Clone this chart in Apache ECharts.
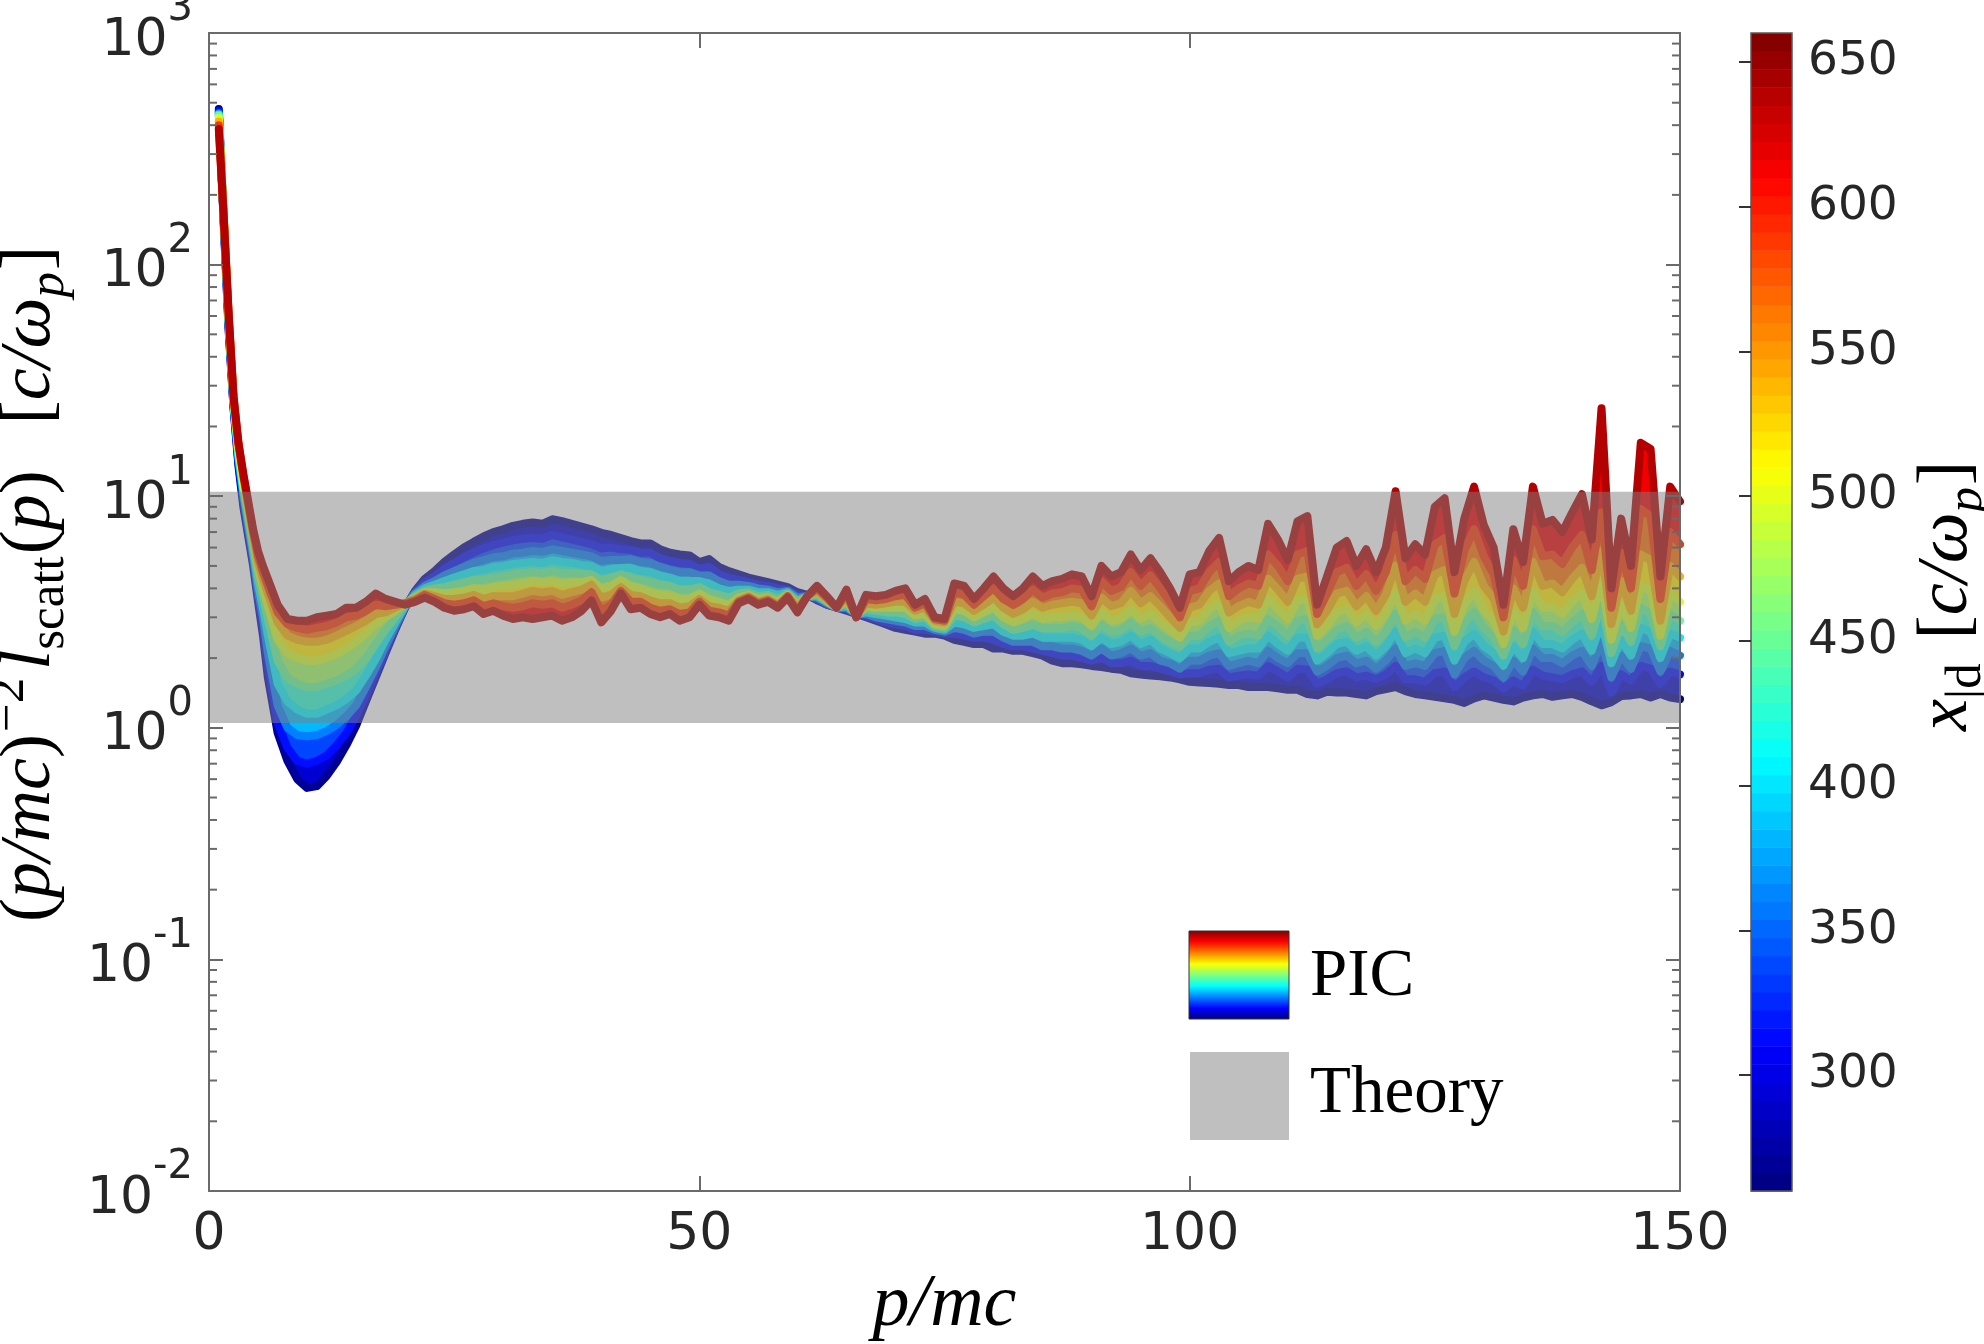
<!DOCTYPE html>
<html>
<head>
<meta charset="utf-8">
<script src="https://cdn.jsdelivr.net/npm/echarts@6.0.0/dist/echarts.min.js"></script>
<style>
html, body { margin: 0; padding: 0; background: #fff; }
#chart { width: 1984px; height: 1344px; }
</style>
</head>
<body>
<div id="chart"></div>
<script>
// p/mc sample points
var pGrid = [1, 1.5, 2, 2.5, 3, 3.5, 4, 4.5, 5, 5.5, 6,
  7, 8, 9, 10, 11, 12, 13, 14, 15, 16, 17, 18, 19, 20,
  21, 22, 23, 24, 25, 26, 27, 28, 29, 30, 31, 32, 33, 34, 35, 36, 37, 38, 39, 40,
  41, 42, 43, 44, 45, 46, 47, 48, 49, 50, 51, 52, 53, 54, 55, 56, 57, 58, 59, 60,
  61, 62, 63, 64, 65, 66, 67, 68, 69, 70, 71, 72, 73, 74, 75, 76, 77, 78, 79, 80,
  81, 82, 83, 84, 85, 86, 87, 88, 89, 90, 91, 92, 93, 94, 95, 96, 97, 98, 99, 100,
  101, 102, 103, 104, 105, 106, 107, 108, 109, 110, 111, 112, 113, 114, 115, 116, 117, 118, 119, 120,
  121, 122, 123, 124, 125, 126, 127, 128, 129, 130, 131, 132, 133, 134, 135, 136, 137, 138, 139, 140,
  141, 142, 143, 144, 145, 146, 147, 148, 149, 150];

// (p/mc)^-2 l_scatt(p), one curve per x_|d value
var scatt270 = [470, 150, 52, 24, 13.5, 9.0, 6.7, 5.0, 3.5, 2.5, 1.65,
  0.95, 0.72, 0.6, 0.55, 0.56, 0.62, 0.71, 0.84, 1.02, 1.3, 1.65, 2.1, 2.65, 3.3,
  3.9, 4.4, 4.75, 5.2, 5.6, 6.0, 6.35, 6.7, 7.0, 7.2, 7.45, 7.6, 7.7, 7.6, 7.95, 7.8, 7.6, 7.4, 7.2, 6.95,
  6.8, 6.6, 6.4, 6.25, 6.25, 5.9, 5.7, 5.6, 5.55, 5.2, 5.35, 4.95, 4.75, 4.6, 4.45, 4.35, 4.25, 4.15, 4.05, 3.85,
  3.75, 3.55, 3.4, 3.3, 3.2, 3.1, 3.0, 2.9, 2.8, 2.7, 2.65, 2.6, 2.55, 2.55, 2.5, 2.4, 2.35, 2.3, 2.3, 2.2,
  2.2, 2.15, 2.15, 2.1, 2.05, 1.95, 1.9, 1.9, 1.88, 1.85, 1.83, 1.8, 1.78, 1.72, 1.7, 1.68, 1.67, 1.65, 1.62, 1.58,
  1.57, 1.56, 1.55, 1.53, 1.53, 1.5, 1.5, 1.5, 1.48, 1.46, 1.46, 1.4, 1.38, 1.43, 1.42, 1.42, 1.4, 1.38, 1.44, 1.47,
  1.5, 1.44, 1.4, 1.38, 1.36, 1.34, 1.32, 1.28, 1.34, 1.38, 1.35, 1.32, 1.3, 1.35, 1.38, 1.4, 1.36, 1.38, 1.4, 1.36,
  1.3, 1.25, 1.29, 1.37, 1.38, 1.4, 1.35, 1.4, 1.35, 1.33];
var scatt315 = [460, 155, 54, 24.5, 14, 9.5, 7.0, 5.2, 3.7, 2.7, 1.85,
  1.05, 0.82, 0.72, 0.7, 0.72, 0.76, 0.84, 0.95, 1.12, 1.38, 1.72, 2.15, 2.7, 3.3,
  3.85, 4.25, 4.5, 4.85, 5.15, 5.45, 5.7, 5.95, 6.15, 6.3, 6.45, 6.55, 6.6, 6.55, 6.8, 6.65, 6.5, 6.35, 6.2, 5.95,
  6.0, 5.9, 5.85, 5.7, 5.7, 5.4, 5.25, 5.15, 5.1, 4.85, 4.95, 4.6, 4.45, 4.35, 4.25, 4.15, 4.1, 4.0, 3.95, 3.75,
  3.7, 3.6, 3.4, 3.3, 3.25, 3.1, 3.05, 2.95, 2.85, 2.8, 2.75, 2.65, 2.65, 2.6, 2.55, 2.55, 2.5, 2.45, 2.45, 2.4,
  2.3, 2.25, 2.25, 2.2, 2.15, 2.1, 2.05, 2.05, 2.0, 1.95, 2.0, 1.9, 1.9, 1.95, 1.85, 1.85, 1.8, 1.75, 1.7, 1.72,
  1.72, 1.78, 1.8, 1.65, 1.68, 1.7, 1.68, 1.85, 1.75, 1.65, 1.8, 1.78, 1.55, 1.62, 1.72, 1.75, 1.65, 1.68, 1.62, 1.7,
  1.85, 1.62, 1.62, 1.58, 1.72, 1.75, 1.5, 1.65, 1.75, 1.65, 1.6, 1.48, 1.6, 1.52, 1.78, 1.68, 1.65, 1.62, 1.7, 1.75,
  1.58, 1.85, 1.42, 1.7, 1.6, 1.85, 1.8, 1.55, 1.75, 1.7];
var scatt360 = [450, 158, 56, 25, 14.5, 10, 7.4, 5.5, 3.9, 3.0, 2.1,
  1.25, 1.0, 0.93, 0.92, 0.93, 0.97, 1.03, 1.12, 1.25, 1.5, 1.82, 2.25, 2.75, 3.35,
  3.8, 4.1, 4.3, 4.55, 4.75, 4.95, 5.15, 5.3, 5.45, 5.5, 5.65, 5.7, 5.8, 5.75, 5.9, 5.8, 5.7, 5.6, 5.5, 5.25,
  5.3, 5.3, 5.35, 5.2, 5.15, 4.95, 4.8, 4.7, 4.7, 4.55, 4.55, 4.3, 4.15, 4.15, 4.1, 4.0, 3.95, 3.85, 3.9, 3.65,
  3.7, 3.65, 3.45, 3.3, 3.3, 3.1, 3.1, 3.0, 2.95, 2.9, 2.85, 2.75, 2.75, 2.65, 2.6, 2.7, 2.65, 2.55, 2.6, 2.6,
  2.45, 2.35, 2.35, 2.35, 2.25, 2.25, 2.2, 2.2, 2.15, 2.05, 2.2, 2.05, 2.1, 2.2, 2.05, 2.1, 1.95, 1.9, 1.8, 1.95,
  1.95, 2.05, 2.1, 1.85, 1.9, 1.95, 1.9, 2.15, 2.0, 1.9, 2.1, 2.1, 1.75, 1.85, 2.0, 2.05, 1.9, 1.95, 1.8, 1.95,
  2.2, 1.85, 1.9, 1.85, 2.1, 2.15, 1.7, 2.0, 2.15, 1.95, 1.85, 1.65, 1.95, 1.75, 2.2, 2.0, 2.0, 1.9, 2.05, 2.15,
  1.85, 2.35, 1.65, 2.05, 1.8, 2.25, 2.2, 1.75, 2.15, 2.05];
var scatt405 = [445, 160, 57, 25.5, 15, 10.5, 7.8, 5.8, 4.2, 3.3, 2.5,
  1.55, 1.3, 1.2, 1.15, 1.15, 1.2, 1.25, 1.33, 1.45, 1.68, 1.98, 2.4, 2.85, 3.35,
  3.75, 4.0, 4.15, 4.3, 4.45, 4.6, 4.75, 4.8, 4.95, 5.0, 5.1, 5.15, 5.2, 5.15, 5.3, 5.2, 5.15, 5.05, 5.0, 4.75,
  4.85, 4.9, 4.9, 4.75, 4.7, 4.55, 4.45, 4.3, 4.3, 4.3, 4.2, 4.0, 3.9, 3.95, 3.95, 3.85, 3.85, 3.75, 3.85, 3.55,
  3.7, 3.7, 3.5, 3.3, 3.35, 3.1, 3.15, 3.1, 3.05, 3.0, 2.95, 2.85, 2.85, 2.7, 2.65, 2.85, 2.8, 2.7, 2.75, 2.8,
  2.6, 2.5, 2.5, 2.55, 2.45, 2.45, 2.45, 2.45, 2.4, 2.25, 2.45, 2.3, 2.35, 2.5, 2.3, 2.4, 2.2, 2.1, 2.0, 2.2,
  2.2, 2.35, 2.45, 2.1, 2.15, 2.2, 2.2, 2.5, 2.3, 2.15, 2.45, 2.45, 1.95, 2.1, 2.3, 2.35, 2.15, 2.25, 2.05, 2.25,
  2.6, 2.1, 2.2, 2.1, 2.45, 2.5, 1.95, 2.35, 2.55, 2.25, 2.1, 1.85, 2.25, 2.0, 2.6, 2.3, 2.3, 2.2, 2.4, 2.55,
  2.15, 2.85, 1.9, 2.4, 2.05, 2.7, 2.6, 2.0, 2.55, 2.45];
var scatt450 = [440, 162, 58, 26, 15.5, 11, 8.2, 6.1, 4.5, 3.7, 2.95,
  1.95, 1.65, 1.55, 1.5, 1.5, 1.55, 1.6, 1.68, 1.8, 2.0, 2.3, 2.65, 3.0, 3.38,
  3.7, 3.9, 4.0, 4.05, 4.15, 4.25, 4.35, 4.35, 4.45, 4.5, 4.6, 4.65, 4.7, 4.65, 4.75, 4.65, 4.65, 4.6, 4.6, 4.35,
  4.45, 4.6, 4.45, 4.35, 4.25, 4.15, 4.1, 3.95, 3.95, 4.05, 3.85, 3.75, 3.65, 3.8, 3.85, 3.7, 3.75, 3.6, 3.8, 3.5,
  3.7, 3.75, 3.5, 3.3, 3.45, 3.1, 3.25, 3.2, 3.15, 3.15, 3.1, 2.95, 3.0, 2.75, 2.7, 3.05, 3.0, 2.85, 2.95, 3.05,
  2.8, 2.65, 2.7, 2.8, 2.7, 2.7, 2.7, 2.75, 2.7, 2.5, 2.8, 2.6, 2.65, 2.85, 2.6, 2.7, 2.5, 2.35, 2.25, 2.5,
  2.5, 2.75, 2.9, 2.35, 2.5, 2.55, 2.5, 2.95, 2.75, 2.5, 2.9, 2.95, 2.2, 2.4, 2.65, 2.75, 2.45, 2.6, 2.35, 2.6,
  3.1, 2.45, 2.6, 2.45, 2.95, 3.0, 2.25, 2.85, 3.15, 2.7, 2.45, 2.05, 2.65, 2.3, 3.15, 2.75, 2.75, 2.6, 2.85, 3.1,
  2.5, 3.5, 2.1, 2.8, 2.35, 3.3, 3.1, 2.25, 3.1, 2.9];
var scatt495 = [430, 163, 59, 26, 16, 11.5, 8.6, 6.5, 4.9, 4.0, 3.35,
  2.4, 2.1, 2.0, 1.95, 1.95, 2.0, 2.08, 2.2, 2.35, 2.55, 2.8, 3.0, 3.2, 3.42,
  3.65, 3.85, 3.85, 3.8, 3.85, 3.9, 4.0, 3.95, 4.05, 4.1, 4.15, 4.2, 4.3, 4.25, 4.3, 4.2, 4.25, 4.25, 4.35, 4.0,
  4.1, 4.35, 4.1, 4.0, 3.85, 3.75, 3.75, 3.6, 3.6, 3.8, 3.6, 3.5, 3.4, 3.65, 3.75, 3.6, 3.65, 3.5, 3.75, 3.4,
  3.7, 3.85, 3.55, 3.3, 3.55, 3.05, 3.35, 3.3, 3.3, 3.3, 3.3, 3.05, 3.1, 2.8, 2.75, 3.25, 3.2, 3.0, 3.15, 3.3,
  3.0, 2.85, 2.95, 3.1, 2.95, 3.0, 3.0, 3.05, 3.0, 2.75, 3.15, 2.9, 2.95, 3.25, 2.95, 3.1, 2.85, 2.65, 2.45, 2.85,
  2.9, 3.25, 3.45, 2.7, 2.9, 3.0, 2.95, 3.6, 3.25, 2.95, 3.55, 3.6, 2.5, 2.75, 3.15, 3.25, 2.85, 3.1, 2.75, 3.1,
  3.8, 2.9, 3.1, 2.9, 3.6, 3.7, 2.6, 3.4, 3.9, 3.2, 2.9, 2.3, 3.2, 2.7, 3.9, 3.3, 3.3, 3.1, 3.5, 3.8,
  2.95, 4.3, 2.4, 3.4, 2.7, 4.1, 3.9, 2.5, 3.8, 3.5];
var scatt540 = [415, 163, 60, 26.5, 16.5, 12, 9.0, 6.8, 5.2, 4.4, 3.8,
  2.85, 2.5, 2.4, 2.35, 2.35, 2.4, 2.5, 2.62, 2.75, 2.9, 3.1, 3.15, 3.3, 3.45,
  3.6, 3.8, 3.7, 3.6, 3.6, 3.65, 3.75, 3.6, 3.7, 3.7, 3.7, 3.8, 3.9, 3.85, 3.9, 3.75, 3.85, 3.95, 4.15, 3.65,
  3.75, 4.05, 3.75, 3.7, 3.55, 3.45, 3.45, 3.3, 3.35, 3.6, 3.35, 3.3, 3.2, 3.55, 3.7, 3.5, 3.6, 3.4, 3.7, 3.3,
  3.7, 3.9, 3.6, 3.3, 3.65, 3.05, 3.45, 3.4, 3.45, 3.5, 3.5, 3.2, 3.3, 2.9, 2.85, 3.5, 3.45, 3.2, 3.4, 3.65,
  3.3, 3.1, 3.25, 3.5, 3.3, 3.4, 3.45, 3.5, 3.45, 3.05, 3.65, 3.35, 3.45, 3.9, 3.45, 3.7, 3.35, 3.0, 2.7, 3.3,
  3.4, 3.9, 4.2, 3.15, 3.35, 3.5, 3.4, 4.4, 3.95, 3.5, 4.4, 4.5, 2.8, 3.2, 3.8, 3.9, 3.35, 3.7, 3.2, 3.75,
  5.0, 3.5, 3.8, 3.5, 4.6, 4.8, 3.1, 4.3, 5.2, 4.1, 3.6, 2.6, 4.0, 3.3, 5.2, 4.1, 4.2, 3.85, 4.4, 4.9,
  3.7, 5.8, 2.8, 4.3, 3.2, 5.6, 5.3, 2.9, 5.0, 4.5];
var scatt590 = [400, 162, 61, 27, 17, 12.3, 9.3, 7.0, 5.5, 4.7, 4.1,
  3.15, 2.8, 2.7, 2.65, 2.7, 2.75, 2.85, 3.0, 3.05, 3.2, 3.4, 3.35, 3.4, 3.45,
  3.55, 3.75, 3.6, 3.45, 3.4, 3.45, 3.55, 3.35, 3.45, 3.35, 3.3, 3.35, 3.45, 3.4, 3.45, 3.3, 3.4, 3.55, 3.85, 3.2,
  3.4, 3.9, 3.5, 3.5, 3.3, 3.2, 3.25, 3.1, 3.15, 3.5, 3.2, 3.15, 3.05, 3.5, 3.65, 3.45, 3.55, 3.35, 3.7, 3.2,
  3.7, 4.0, 3.65, 3.3, 3.8, 3.0, 3.6, 3.55, 3.6, 3.7, 3.75, 3.3, 3.45, 2.95, 2.9, 3.85, 3.75, 3.4, 3.7, 4.0,
  3.6, 3.4, 3.6, 3.95, 3.65, 3.8, 3.85, 4.0, 3.95, 3.35, 4.3, 3.9, 4.05, 4.7, 4.1, 4.55, 4.0, 3.5, 3.0, 3.9,
  4.0, 4.7, 5.2, 3.7, 4.0, 4.2, 4.1, 5.6, 5.0, 4.3, 5.6, 5.8, 3.1, 3.8, 4.7, 4.9, 4.1, 4.6, 3.9, 4.7,
  6.8, 4.3, 4.8, 4.4, 6.2, 6.6, 3.8, 5.8, 7.2, 5.5, 4.6, 3.0, 5.3, 4.1, 7.2, 5.5, 5.6, 5.1, 6.0, 6.8,
  4.8, 8.5, 3.3, 5.7, 4.0, 8.8, 8.2, 3.6, 7.0, 6.2];
var scatt640 = [385, 160, 62, 27, 17, 12.5, 9.5, 7.2, 5.8, 5.0, 4.4,
  3.4, 2.95, 2.9, 2.9, 3.0, 3.05, 3.1, 3.3, 3.3, 3.5, 3.8, 3.6, 3.5, 3.4,
  3.5, 3.65, 3.5, 3.3, 3.2, 3.25, 3.35, 3.1, 3.2, 3.05, 2.95, 3.0, 2.95, 3.0, 3.05, 2.9, 3.0, 3.2, 3.55, 2.85,
  3.2, 3.8, 3.25, 3.3, 3.1, 3.0, 3.1, 2.9, 3.0, 3.4, 3.05, 3.0, 2.9, 3.45, 3.6, 3.4, 3.5, 3.3, 3.65, 3.15,
  3.7, 4.1, 3.7, 3.3, 3.95, 3.0, 3.75, 3.7, 3.75, 3.9, 4.0, 3.4, 3.6, 3.0, 2.95, 4.2, 4.1, 3.6, 4.0, 4.5,
  4.0, 3.7, 4.0, 4.5, 4.1, 4.3, 4.4, 4.6, 4.5, 3.7, 5.0, 4.5, 4.7, 5.6, 4.8, 5.4, 4.7, 4.0, 3.3, 4.6,
  4.7, 5.8, 6.6, 4.3, 4.7, 5.0, 4.8, 7.6, 6.5, 5.3, 7.8, 8.2, 3.4, 4.5, 6.0, 6.4, 5.0, 5.9, 4.7, 6.0,
  10.5, 5.4, 6.2, 5.6, 9.0, 9.8, 4.7, 8.0, 11.0, 7.5, 6.0, 3.4, 7.2, 5.2, 11.0, 7.6, 7.9, 7.0, 8.5, 10.2,
  6.5, 24, 4.0, 8.0, 5.0, 17, 16, 4.5, 11, 9.5];

var xdValues = [270, 315, 360, 405, 450, 495, 540, 590, 640];
var theoryRange = [1.05, 10.46];
var colorRange = [260, 660];
var colorTicks = [300, 350, 400, 450, 500, 550, 600, 650];

var curves = [scatt270, scatt315, scatt360, scatt405, scatt450, scatt495, scatt540, scatt590, scatt640];

var axisGray = '#6a6a6a';
var textDark = '#262626';
var tickFont = 'DejaVu Sans';
var serif = 'Liberation Serif';

// matlab style jet colormap
function jet(t) {
  function c(v) { return Math.round(Math.min(1, Math.max(0, v)) * 255); }
  return 'rgb(' + c(1.5 - Math.abs(4 * t - 3)) + ',' + c(1.5 - Math.abs(4 * t - 2)) + ',' + c(1.5 - Math.abs(4 * t - 1)) + ')';
}
function xdToT(xd) { return (xd - colorRange[0]) / (colorRange[1] - colorRange[0]); }

function pairs(ys) {
  return pGrid.map(function (p, j) { return [p, ys[j]]; });
}

// rich styles that imitate the latex labels
function latexRich(size, small, up, down, gap, lead, supGap) {
  return {
    n: { fontFamily: serif, fontSize: size, lineHeight: size, color: '#000', verticalAlign: 'middle' },
    i: { fontFamily: serif, fontStyle: 'italic', fontSize: size, lineHeight: size, color: '#000', verticalAlign: 'middle' },
    f: { fontFamily: serif, fontStyle: 'italic', fontSize: size, lineHeight: size, color: '#000', verticalAlign: 'middle', padding: [0, 0, 0, lead] },
    h: { fontFamily: serif, fontSize: size, lineHeight: size, color: '#000', verticalAlign: 'middle', padding: [0, 0, 0, lead] },
    g: { fontFamily: serif, fontSize: size, lineHeight: size, color: '#000', verticalAlign: 'middle', padding: [0, 0, 0, gap] },
    sup: { fontFamily: serif, fontSize: small, lineHeight: small, color: '#000', verticalAlign: 'middle', padding: [0, supGap, up, 2] },
    subR: { fontFamily: serif, fontSize: small, lineHeight: small, color: '#000', verticalAlign: 'middle', padding: [down, 2, 0, 0] },
    subI: { fontFamily: serif, fontStyle: 'italic', fontSize: small, lineHeight: small, color: '#000', verticalAlign: 'middle', padding: [down, 2, 0, 0] }
  };
}

var chart = echarts.init(document.getElementById('chart'));

var series = [];

// filled strips between neighbouring curves
series.push({
  type: 'custom',
  xAxisIndex: 0,
  yAxisIndex: 0,
  z: 1,
  silent: true,
  data: curves.slice(0, -1).map(function (c, i) { return [i, 1]; }),
  renderItem: function (params, api) {
    var i = params.dataIndex;
    var lo = curves[i], hi = curves[i + 1];
    var pts = [];
    for (var j = 0; j < pGrid.length; j++) pts.push(api.coord([pGrid[j], lo[j]]));
    for (var k = pGrid.length - 1; k >= 0; k--) pts.push(api.coord([pGrid[k], hi[k]]));
    var t = (xdToT(xdValues[i]) + xdToT(xdValues[i + 1])) / 2;
    return { type: 'polygon', shape: { points: pts }, style: { fill: jet(t) } };
  }
});

curves.forEach(function (c, i) {
  series.push({
    type: 'line',
    xAxisIndex: 0,
    yAxisIndex: 0,
    z: 2,
    silent: true,
    symbol: 'none',
    showSymbol: false,
    data: pairs(c),
    lineStyle: { width: 8, color: jet(xdToT(xdValues[i])), join: 'round', cap: 'round' },
    emphasis: { disabled: true }
  });
});

// theory band, half transparent grey over the PIC curves
series.push({
  type: 'custom',
  xAxisIndex: 0,
  yAxisIndex: 0,
  z: 3,
  silent: true,
  data: [[0, theoryRange[0]]],
  renderItem: function (params, api) {
    var a = api.coord([0, theoryRange[1]]);
    var b = api.coord([150, theoryRange[0]]);
    return { type: 'rect', shape: { x: a[0], y: a[1], width: b[0] - a[0], height: b[1] - a[1] }, style: { fill: 'rgba(128,128,128,0.5)' } };
  }
});

// log minor ticks on left and right frame
var minorVals = [];
for (var d = -2; d < 3; d++) {
  for (var m = 2; m < 10; m++) minorVals.push([0, m * Math.pow(10, d)]);
}
series.push({
  type: 'custom',
  xAxisIndex: 0,
  yAxisIndex: 0,
  z: 20,
  silent: true,
  data: minorVals,
  renderItem: function (params, api) {
    var l = api.coord([0, api.value(1)]);
    var r = api.coord([150, api.value(1)]);
    var st = { stroke: axisGray, lineWidth: 2 };
    return {
      type: 'group',
      children: [
        { type: 'line', shape: { x1: l[0], y1: l[1], x2: l[0] + 8, y2: l[1] }, style: st },
        { type: 'line', shape: { x1: r[0] - 8, y1: r[1], x2: r[0], y2: r[1] }, style: st }
      ]
    };
  }
});

// colorbar: 64 jet levels
var nLevels = 64;
var levels = [];
for (var q = 0; q < nLevels; q++) levels.push([0.5, colorRange[0] + (q + 0.5) * (colorRange[1] - colorRange[0]) / nLevels]);
series.push({
  type: 'custom',
  xAxisIndex: 2,
  yAxisIndex: 2,
  z: 2,
  silent: true,
  data: levels,
  renderItem: function (params, api) {
    var step = (colorRange[1] - colorRange[0]) / nLevels;
    var v = api.value(1);
    var a = api.coord([0, v + step / 2]);
    var b = api.coord([1, v - step / 2]);
    return { type: 'rect', shape: { x: a[0], y: a[1], width: b[0] - a[0], height: b[1] - a[1] + 0.5 }, style: { fill: jet((params.dataIndex + 0.5) / nLevels) } };
  }
});
series.push({
  type: 'custom',
  xAxisIndex: 2,
  yAxisIndex: 2,
  z: 3,
  silent: true,
  data: [[0, colorRange[1]]],
  renderItem: function (params, api) {
    var a = api.coord([0, colorRange[1]]);
    var b = api.coord([1, colorRange[0]]);
    return { type: 'rect', shape: { x: a[0], y: a[1], width: b[0] - a[0], height: b[1] - a[1] }, style: { fill: 'none', stroke: '#5a5a5a', lineWidth: 1.5 } };
  }
});

var legendStops = [];
for (var s = 0; s <= 16; s++) legendStops.push({ offset: s / 16, color: jet(1 - s / 16) });

var option = {
  animation: false,
  backgroundColor: '#ffffff',
  textStyle: { fontFamily: tickFont },
  grid: [
    { left: 209, top: 33, width: 1471, height: 1158, outerBoundsMode: 'none', containLabel: false },
    { left: 1751, top: 33, width: 41, height: 1158, outerBoundsMode: 'none', containLabel: false }
  ],
  xAxis: [
    {
      type: 'value', gridIndex: 0, position: 'bottom', min: 0, max: 150, interval: 50, z: 10,
      axisLine: { show: true, onZero: false, lineStyle: { color: axisGray, width: 2 } },
      axisTick: { show: true, inside: true, length: 15, lineStyle: { color: axisGray, width: 2 } },
      axisLabel: { fontSize: 52, color: textDark, fontFamily: tickFont, margin: 18, showMinLabel: true, showMaxLabel: true },
      splitLine: { show: false },
      name: 'p/mc', nameLocation: 'middle', nameGap: 78,
      nameTextStyle: { fontFamily: serif, fontStyle: 'italic', fontSize: 74, color: '#000' }
    },
    {
      type: 'value', gridIndex: 0, position: 'top', min: 0, max: 150, interval: 50, z: 10,
      axisLine: { show: true, onZero: false, lineStyle: { color: axisGray, width: 2 } },
      axisTick: { show: true, inside: true, length: 15, lineStyle: { color: axisGray, width: 2 } },
      axisLabel: { show: false },
      splitLine: { show: false }
    },
    {
      type: 'value', gridIndex: 1, min: 0, max: 1, show: false
    }
  ],
  yAxis: [
    {
      type: 'log', logBase: 10, gridIndex: 0, position: 'left', min: 0.01, max: 1000, splitNumber: 5, z: 10,
      axisLine: { show: true, onZero: false, lineStyle: { color: axisGray, width: 2 } },
      axisTick: { show: true, inside: true, length: 14, lineStyle: { color: axisGray, width: 2 } },
      axisLabel: {
        margin: 16,
        formatter: function (v) {
          var e = Math.round(Math.log(v) / Math.LN10);
          return '{b|10}{s|' + e + '}';
        },
        rich: {
          b: { fontFamily: tickFont, fontSize: 52, lineHeight: 52, color: textDark, verticalAlign: 'middle', padding: [16, 0, 0, 0] },
          s: { fontFamily: tickFont, fontSize: 40, lineHeight: 40, color: textDark, verticalAlign: 'middle', padding: [0, 0, 46, 0] }
        }
      },
      splitLine: { show: false },
      name: '{h|(}{i|p/mc}{n|)}{sup|\u22122}{i|l}{subR|scatt}{n|(}{i|p}{n|)}{g|[}{i|c/\u03c9}{subI|p}{n|]}',
      nameLocation: 'middle', nameRotate: 90, nameGap: 109,
      nameTextStyle: { rich: latexRich(72, 51, 41, 39, 46, 56, 8) }
    },
    {
      type: 'log', logBase: 10, gridIndex: 0, position: 'right', min: 0.01, max: 1000, splitNumber: 5, z: 10,
      axisLine: { show: true, onZero: false, lineStyle: { color: axisGray, width: 2 } },
      axisTick: { show: true, inside: true, length: 14, lineStyle: { color: axisGray, width: 2 } },
      axisLabel: { show: false },
      splitLine: { show: false }
    },
    {
      type: 'value', gridIndex: 1, position: 'right', min: colorRange[0], max: colorRange[1], z: 10,
      axisLine: { show: false },
      axisTick: { show: true, inside: true, length: 12, customValues: colorTicks, lineStyle: { color: '#333', width: 2 } },
      axisLabel: { fontSize: 47, color: textDark, fontFamily: tickFont, margin: 16, customValues: colorTicks },
      splitLine: { show: false },
      name: '{f|x}{subR||d}{g|[}{i|c/\u03c9}{subI|p}{n|]}',
      nameLocation: 'middle', nameRotate: 90, nameGap: 110,
      nameTextStyle: { rich: latexRich(72, 51, 40, 40, 22, 32, 8) }
    }
  ],
  series: series,
  graphic: [
    {
      type: 'rect', x: 1189, y: 931, silent: true,
      shape: { width: 100, height: 88 },
      style: { fill: new echarts.graphic.LinearGradient(0, 0, 0, 1, legendStops), stroke: '#333', lineWidth: 1 }
    },
    {
      type: 'rect', x: 1190, y: 1052, silent: true,
      shape: { width: 99, height: 88 },
      style: { fill: '#bfbfbf' }
    },
    {
      type: 'text', x: 1310, y: 977, silent: true,
      style: { text: 'PIC', fontFamily: serif, fontSize: 67, fill: '#000', verticalAlign: 'middle' }
    },
    {
      type: 'text', x: 1310, y: 1094, silent: true,
      style: { text: 'Theory', fontFamily: serif, fontSize: 67, fill: '#000', verticalAlign: 'middle' }
    }
  ]
};

chart.setOption(option);
</script>
</body>
</html>
